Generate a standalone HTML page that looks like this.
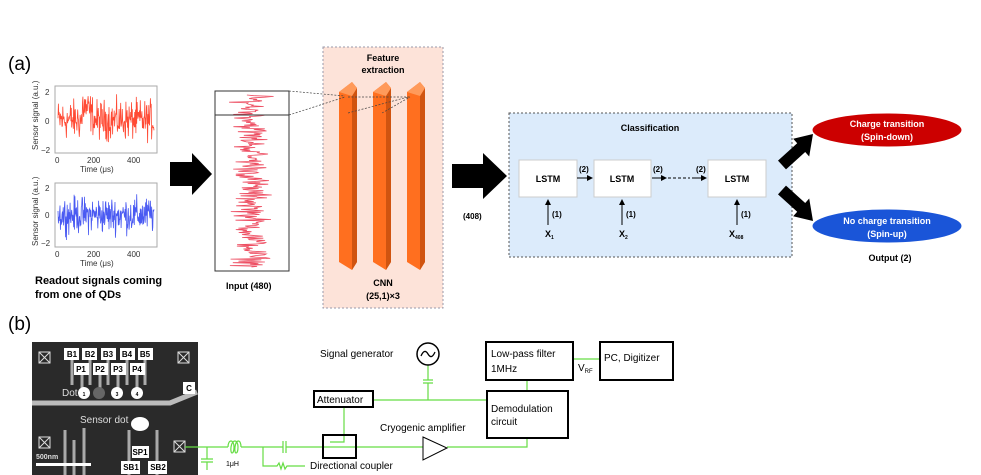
<!DOCTYPE html>
<html><head><meta charset="utf-8">
<style>
html,body{margin:0;padding:0;background:#fff;}
svg{display:block;font-family:"Liberation Sans",Arial,sans-serif;}
.b{font-weight:bold;}
</style></head><body>
<svg id="s" width="981" height="475" viewBox="0 0 981 475" xmlns="http://www.w3.org/2000/svg">
<defs>
<marker id="ah" markerWidth="6" markerHeight="6" refX="5" refY="3" orient="auto"><path d="M0,0 L6,3 L0,6 z" fill="#000"/></marker>
</defs>
<text x="8" y="70" font-size="19">(a)</text>
<text x="8" y="330" font-size="19">(b)</text>

<rect x="55" y="86" width="102" height="67" fill="#fff" stroke="#aaa"/>
<rect x="55" y="183" width="102" height="64" fill="#fff" stroke="#aaa"/>
<g id="p1"></g><g id="p2"></g>
<g font-size="8" fill="#333">
<text x="45" y="95">2</text><text x="45" y="124">0</text><text x="41" y="153">−2</text>
<text x="55" y="163">0</text><text x="87" y="163">200</text><text x="127" y="163">400</text>
<text x="80" y="172">Time (μs)</text>
<text x="45" y="191">2</text><text x="45" y="218">0</text><text x="41" y="246">−2</text>
<text x="55" y="257">0</text><text x="87" y="257">200</text><text x="127" y="257">400</text>
<text x="80" y="266">Time (μs)</text>
<text transform="translate(38,150) rotate(-90)">Sensor signal (a.u.)</text>
<text transform="translate(38,246) rotate(-90)">Sensor signal (a.u.)</text>
</g>
<text x="35" y="284" font-size="11" class="b">Readout signals coming</text>
<text x="35" y="298" font-size="11" class="b">from one of QDs</text>
<path d="M170,162 L192,162 L192,153 L212,174 L192,195 L192,186 L170,186 z" fill="#000"/>

<rect x="215" y="91" width="74" height="180" fill="#fff" stroke="#333"/>
<g id="p3"></g>
<rect x="215" y="91" width="74" height="24" fill="none" stroke="#333"/>
<text x="226" y="289" font-size="9" class="b">Input (480)</text>

<rect x="323" y="47" width="120" height="261" fill="#fde3d9" stroke="#99a" stroke-dasharray="2,2"/>
<text x="383" y="61" font-size="9" class="b" text-anchor="middle">Feature</text>
<text x="383" y="73" font-size="9" class="b" text-anchor="middle">extraction</text>
<g>
<path d="M339,92 L352,82 L357,88 L357,262 L352,270 L339,262 z" fill="#ff6f1f"/>
<path d="M352,96 L357,88 L357,262 L352,270 z" fill="#d05410"/>
<path d="M339,92 L352,82 L357,88 L352,96 z" fill="#ff9a5a"/>
<path d="M373,92 L386,82 L391,88 L391,262 L386,270 L373,262 z" fill="#ff6f1f"/>
<path d="M386,96 L391,88 L391,262 L386,270 z" fill="#d05410"/>
<path d="M373,92 L386,82 L391,88 L386,96 z" fill="#ff9a5a"/>
<path d="M407,92 L420,82 L425,88 L425,262 L420,270 L407,262 z" fill="#ff6f1f"/>
<path d="M420,96 L425,88 L425,262 L420,270 z" fill="#d05410"/>
<path d="M407,92 L420,82 L425,88 L420,96 z" fill="#ff9a5a"/>
</g>
<g stroke="#444" stroke-width="0.7" stroke-dasharray="2,1.5" fill="none">
<path d="M289,91 L345,96"/><path d="M289,115 L345,97"/>
<path d="M348,97 L410,97"/><path d="M348,113 L408,97"/><path d="M382,113 L410,97"/>
</g>
<text x="383" y="286" font-size="9" class="b" text-anchor="middle">CNN</text>
<text x="383" y="299" font-size="9" class="b" text-anchor="middle">(25,1)×3</text>

<path d="M452,164 L483,164 L483,153 L507,176 L483,199 L483,188 L452,188 z" fill="#000"/>
<text x="463" y="219" font-size="8" class="b">(408)</text>

<rect x="509" y="113" width="283" height="144" fill="#dcebfb" stroke="#555" stroke-dasharray="2,2"/>
<text x="650" y="131" font-size="9" class="b" text-anchor="middle">Classification</text>
<g fill="#fff" stroke="#ccc">
<rect x="519" y="160" width="58" height="37"/><rect x="594" y="160" width="57" height="37"/><rect x="708" y="160" width="58" height="37"/>
</g>
<g font-size="9" class="b" text-anchor="middle">
<text x="548" y="182">LSTM</text><text x="622" y="182">LSTM</text><text x="737" y="182">LSTM</text>
</g>
<g stroke="#000" stroke-width="1" marker-end="url(#ah)">
<line x1="577" y1="178" x2="592" y2="178"/>
<line x1="652" y1="178" x2="666" y2="178"/>
<line x1="692" y1="178" x2="706" y2="178"/>
<line x1="548" y1="225" x2="548" y2="200"/>
<line x1="622" y1="225" x2="622" y2="200"/>
<line x1="737" y1="225" x2="737" y2="200"/>
</g>
<line x1="668" y1="178" x2="690" y2="178" stroke="#000" stroke-dasharray="3,2"/>
<g font-size="8" class="b">
<text x="579" y="172">(2)</text><text x="653" y="172">(2)</text><text x="696" y="172">(2)</text>
<text x="552" y="217">(1)</text><text x="626" y="217">(1)</text><text x="741" y="217">(1)</text>
<text x="545" y="237" font-size="9">X<tspan font-size="5" dy="2">1</tspan></text>
<text x="619" y="237" font-size="9">X<tspan font-size="5" dy="2">2</tspan></text>
<text x="729" y="237" font-size="9">X<tspan font-size="5" dy="2">408</tspan></text>
</g>
<path d="M778,160.6 L797.2,143.2 L793.2,138.7 L813,134 L809.2,156.5 L805.2,152 L786,169.4 z" fill="#000"/>
<path d="M778,194.4 L797.2,211.8 L793.2,216.3 L813,221 L809.2,198.5 L805.2,203 L786,185.6 z" fill="#000"/>
<ellipse cx="887" cy="130" rx="75" ry="17" fill="#c00" stroke="#fff"/>
<ellipse cx="887" cy="226" rx="75" ry="17" fill="#1a55d8" stroke="#fff"/>
<g font-size="9" class="b" fill="#fff" text-anchor="middle">
<text x="887" y="127">Charge transition</text><text x="887" y="140">(Spin-down)</text>
<text x="887" y="224">No charge transition</text><text x="887" y="237">(Spin-up)</text>
</g>
<text x="890" y="261" font-size="9" class="b" text-anchor="middle">Output (2)</text>

<rect x="32" y="342" width="166" height="133" fill="#2a2a2a"/>
<g stroke="#aaa" stroke-width="3">
<line x1="72" y1="360" x2="72" y2="385"/><line x1="82" y1="370" x2="82" y2="390"/><line x1="90" y1="360" x2="90" y2="385"/><line x1="100" y1="370" x2="100" y2="390"/><line x1="108" y1="360" x2="108" y2="385"/><line x1="118" y1="370" x2="118" y2="390"/><line x1="127" y1="360" x2="127" y2="385"/><line x1="137" y1="370" x2="137" y2="390"/><line x1="145" y1="360" x2="145" y2="385"/>
<line x1="65" y1="430" x2="65" y2="475"/><line x1="74" y1="440" x2="74" y2="475"/><line x1="84" y1="428" x2="84" y2="475"/>
<line x1="129" y1="430" x2="129" y2="475"/><line x1="157" y1="430" x2="157" y2="475"/>
</g>
<path d="M32,403 L170,403 L197,392" stroke="#bbb" stroke-width="5" fill="none"/>
<g fill="#fff" font-size="8" class="b" text-anchor="middle">
<rect x="64" y="348" width="15" height="12"/><rect x="82" y="348" width="15" height="12"/><rect x="101" y="348" width="15" height="12"/><rect x="120" y="348" width="15" height="12"/><rect x="138" y="348" width="15" height="12"/>
<rect x="74" y="363" width="15" height="12"/><rect x="93" y="363" width="15" height="12"/><rect x="111" y="363" width="15" height="12"/><rect x="130" y="363" width="15" height="12"/>
<rect x="183" y="382" width="12" height="12"/>
<rect x="132" y="446" width="17" height="12"/><rect x="121" y="461" width="19" height="13"/><rect x="148" y="461" width="19" height="13"/>
<circle cx="84" cy="393" r="6"/><circle cx="117" cy="393" r="6"/><circle cx="137" cy="393" r="6"/>
<ellipse cx="140" cy="424" rx="9" ry="7"/>
<rect x="36" y="463" width="55" height="3"/>
</g>
<circle cx="99" cy="393" r="6" fill="#666"/>
<g font-size="8" class="b" text-anchor="middle">
<text x="72" y="357">B1</text><text x="90" y="357">B2</text><text x="108" y="357">B3</text><text x="127" y="357">B4</text><text x="145" y="357">B5</text>
<text x="81" y="372">P1</text><text x="100" y="372">P2</text><text x="118" y="372">P3</text><text x="137" y="372">P4</text>
<text x="189" y="391">C</text><text x="140" y="455">SP1</text><text x="131" y="470">SB1</text><text x="158" y="470">SB2</text>
<text x="84" y="396" font-size="5">1</text><text x="117" y="396" font-size="5">3</text><text x="137" y="396" font-size="5">4</text>
</g>
<g fill="#ddd" font-size="10"><text x="62" y="396">Dot</text><text x="80" y="423">Sensor dot</text><text x="36" y="459" font-size="7" class="b">500nm</text></g>
<g stroke="#ddd" fill="none" stroke-width="1">
<rect x="39" y="352" width="11" height="11"/><path d="M39,352 L50,363 M50,352 L39,363"/>
<rect x="178" y="352" width="11" height="11"/><path d="M178,352 L189,363 M189,352 L178,363"/>
<rect x="39" y="437" width="11" height="11"/><path d="M39,437 L50,448 M50,437 L39,448"/>
<rect x="174" y="441" width="11" height="11"/><path d="M174,441 L185,452 M185,441 L174,452"/>
</g>

<g stroke="#66dd44" stroke-width="1.2" fill="none">
<path d="M185,447 L228,447"/>
<path d="M228,447 c0,-8 6,-8 6,0 c0,8 -4,8 -3,0 c1,-8 7,-8 7,0 c0,8 -4,8 -3,0 c1,-8 6,-8 6,0"/>
<path d="M241,447 L283,447 M286,447 L423,447"/>
<path d="M283,441 L283,453 M286,441 L286,453"/>
<path d="M207,447 L207,459 M201,459 L213,459 M201,462 L213,462 M207,462 L207,470"/>
<path d="M263,447 L263,466 L277,466 l2,-3 l2,6 l2,-6 l2,6 l2,-3 L305,466"/>
<path d="M344,407 L344,442 L330,442"/>
<path d="M373,400 L487,400 M428,365 L428,380 M423,380 L433,380 M423,383 L433,383 M428,383 L428,400"/>
<path d="M447,447 L527,447 L527,438 M527,380 L527,391 M573,359 L600,359"/>
</g>
<g stroke="#000" stroke-width="2" fill="#fff">
<rect x="314" y="391" width="59" height="16"/>
<rect x="323" y="435" width="33" height="23" fill="none"/>
<rect x="486" y="342" width="87" height="38"/>
<rect x="600" y="342" width="73" height="38"/>
<rect x="487" y="391" width="81" height="47"/>
</g>
<path d="M423,437 L447,448 L423,460 z" fill="#fff" stroke="#000"/>
<circle cx="428" cy="354" r="11" fill="#fff" stroke="#000" stroke-width="1.5"/>
<path d="M421,356 q3.5,-8 7,-2 t7,-2" fill="none" stroke="#000" stroke-width="1.3"/>
<g font-size="10">
<text x="320" y="357">Signal generator</text>
<text x="317" y="403">Attenuator</text>
<text x="380" y="431">Cryogenic amplifier</text>
<text x="310" y="469">Directional coupler</text>
<text x="491" y="357">Low-pass filter</text><text x="491" y="372">1MHz</text>
<text x="604" y="361">PC, Digitizer</text>
<text x="491" y="412">Demodulation</text><text x="491" y="425">circuit</text>
<text x="578" y="371">V<tspan font-size="6" dy="2">RF</tspan></text>
<text x="226" y="466" font-size="7">1μH</text>
</g>
</svg>
<script>
var s=12345;function r(){s=(s*1103515245+12345)%2147483648;return s/2147483648;}
function g(){return (r()+r()+r()-1.5)*1.6;}
function plot(id,x0,x1,yc,sc,col,shift){var el=document.getElementById(id);var pts=[];var n=240;
for(var i=0;i<n;i++){var x=x0+(x1-x0)*i/(n-1);var v=g();if(shift&&i>60&&i<90)v+=1.3-(i-60)/30;pts.push(x.toFixed(1)+","+(yc-v*sc).toFixed(1));}
el.innerHTML='<polyline points="'+pts.join(" ")+'" fill="none" stroke="'+col+'" stroke-width="0.8" opacity="0.85"/>';}
plot("p1",58,154,120,12,"#ff2a10",true);
plot("p2",58,154,215,11,"#2a3df0",false);
(function(){var el=document.getElementById("p3");var pts=[];for(var i=0;i<240;i++){var y=95+172*i/239;var v=g();pts.push((252+v*11).toFixed(1)+","+y.toFixed(1));}
el.innerHTML='<polyline points="'+pts.join(" ")+'" fill="none" stroke="#e8203a" stroke-width="0.8" opacity="0.8"/>';})();
</script>
</body></html>
